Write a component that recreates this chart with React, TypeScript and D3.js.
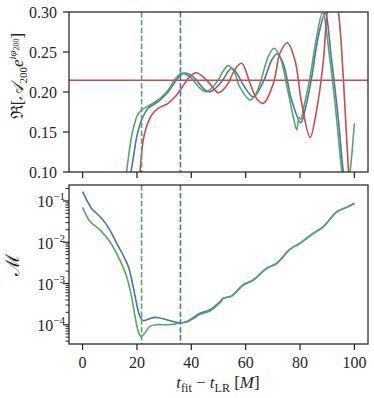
import React, { useEffect, useRef } from 'react';
import * as d3 from 'd3';

// top panel: real part of the fitted amplitude
const greenReX = [15, 16.2, 17, 18, 19, 19.9, 21, 21.7, 24.1, 27.8, 31.5, 34, 36.4, 38, 40.1, 43.2, 45.6, 47.5, 49.9, 51.5, 53.6, 55.5, 57.9, 61.6, 63.5, 65.3, 68.3, 70.4, 72.6, 75.7, 77.5, 78.8, 79.6, 80.3, 81.3, 83.7, 86.1, 88.3, 91, 93.5, 95.3, 96.9, 98.4, 100];
const greenReY = [0.06, 0.1, 0.122, 0.144, 0.159, 0.169, 0.175, 0.1775, 0.1825, 0.19, 0.2025, 0.216, 0.2234, 0.222, 0.217, 0.2046, 0.2004, 0.205, 0.215, 0.225, 0.233, 0.227, 0.206, 0.19, 0.196, 0.2109, 0.2441, 0.2546, 0.2441, 0.1984, 0.169, 0.1525, 0.168, 0.166, 0.18, 0.219, 0.269, 0.299, 0.24, 0.165, 0.1025, 0.065, 0.1, 0.161];

const blueReX = [16.5, 17.8, 19, 19.9, 21, 21.7, 24.1, 27.8, 31.5, 35.2, 37.4, 40.7, 45, 46.9, 49, 51.2, 54.8, 57, 59.1, 62.8, 66.5, 69.6, 71.6, 73.8, 76.9, 80.3, 82, 84.3, 86.7, 89.2, 91.6, 94.1, 95.9, 98, 100];
const blueReY = [0.07, 0.1, 0.125, 0.144, 0.158, 0.165, 0.1796, 0.188, 0.2004, 0.218, 0.2238, 0.219, 0.2025, 0.2004, 0.205, 0.213, 0.2296, 0.222, 0.209, 0.194, 0.213, 0.24, 0.2478, 0.2359, 0.19, 0.1617, 0.18, 0.219, 0.269, 0.2985, 0.24, 0.165, 0.1, 0.05, 0.07];

const redReX = [20.3, 21.1, 22.3, 23.5, 25.4, 27.8, 31.5, 34, 36.4, 38.9, 41.7, 45, 48.7, 49.9, 51.5, 53.6, 56, 58.5, 61.6, 64, 66.5, 70.2, 72.6, 75.3, 78.1, 80.6, 83.7, 86.1, 88.6, 90, 92, 94.1, 95.9, 97.8, 100];
const redReY = [0.07, 0.1, 0.14, 0.1566, 0.1713, 0.1796, 0.1859, 0.194, 0.2046, 0.217, 0.2241, 0.217, 0.2025, 0.199, 0.202, 0.211, 0.228, 0.2359, 0.2109, 0.192, 0.186, 0.2109, 0.2484, 0.2616, 0.24, 0.186, 0.1433, 0.1775, 0.24, 0.3, 0.335, 0.3, 0.219, 0.1025, 0.0];

const redLevel = 0.2146;

// bottom panel: mismatch
const blueMX = [0, 1.5, 3.3, 5, 7, 10, 12.5, 14.9, 16.8, 18.6, 20.1, 21.1, 22.3, 24.1, 26.6, 28.5, 30.9, 33.5, 35.8, 38.3, 40.7, 43.2, 46.9, 50.5, 51.7, 54.8, 59.1, 62.8, 67.7, 71.4, 76.3, 80, 84.9, 88.6, 93.5, 97.2, 100];
const blueMY = [0.168, 0.106, 0.066, 0.051, 0.038, 0.02, 9.5e-3, 4.9e-3, 2.6e-3, 8.4e-4, 2.75e-4, 1.58e-4, 1.26e-4, 1.36e-4, 1.51e-4, 1.45e-4, 1.32e-4, 1.2e-4, 1.12e-4, 1.2e-4, 1.48e-4, 1.9e-4, 2.3e-4, 3.6e-4, 4.4e-4, 5.0e-4, 9.3e-4, 1.23e-3, 2.34e-3, 3.1e-3, 6.8e-3, 9.5e-3, 0.0166, 0.024, 0.055, 0.071, 0.088];

const greenMX = [0, 2.7, 6.4, 10, 13.7, 16.2, 18, 19.3, 20.5, 21.5, 22.9, 24.8, 27.2, 32.1, 35.8, 38.5, 40.7, 43.2, 46.9, 50.5, 51.7, 54.8, 59.1, 62.8, 67.7, 71.4, 76.3, 80, 84.9, 88.6, 93.5, 97.2, 100];
const greenMY = [0.07, 0.032, 0.02, 0.0104, 3.7e-3, 1.48e-3, 4.8e-4, 1.58e-4, 6.8e-5, 5.2e-5, 6.3e-5, 9.1e-5, 1.0e-4, 1.0e-4, 1.1e-4, 1.17e-4, 1.41e-4, 1.78e-4, 2.14e-4, 3.4e-4, 4.3e-4, 4.9e-4, 9.1e-4, 1.2e-3, 2.3e-3, 3.0e-3, 6.7e-3, 9.4e-3, 0.0163, 0.0235, 0.054, 0.07, 0.087];

const greenStart = 21.7;
const blueStart = 36;

const xTicks = [0, 20, 40, 60, 80, 100];
const reTicks = [0.1, 0.15, 0.2, 0.25, 0.3];
const logExps = [-4, -3, -2, -1];

const BLUE = '#4c72b0';
const GREEN = '#55a868';
const RED = '#c44e52';
const INK = '#262626';
const SERIF = "'Liberation Serif', 'DejaVu Serif', serif";

const App = () => {
  const ref = useRef(null);

  useEffect(() => {
    const svg = d3.select(ref.current);
    svg.selectAll('*').remove();

    const left = 69, right = 368;
    const top1 = 12, bot1 = 172, top2 = 185, bot2 = 344;

    const x = d3.scaleLinear().domain([-5, 105]).range([left, right]);
    const y1 = d3.scaleLinear().domain([0.1, 0.3]).range([bot1, top1]);
    const y2 = d3.scaleLog().domain([3.41e-5, 0.244]).range([bot2, top2]);

    const defs = svg.append('defs');
    defs.append('clipPath').attr('id', 'c1').append('rect')
      .attr('x', left).attr('y', top1).attr('width', right - left).attr('height', bot1 - top1);
    defs.append('clipPath').attr('id', 'c2').append('rect')
      .attr('x', left).attr('y', top2).attr('width', right - left).attr('height', bot2 - top2);

    const zip = (a, b) => a.map((v, i) => [v, b[i]]);

    // top panel curves
    const g1 = svg.append('g').attr('clip-path', 'url(#c1)');
    const line1 = d3.line().x(d => x(d[0])).y(d => y1(d[1])).curve(d3.curveCatmullRom.alpha(0.5));
    [[blueReX, blueReY, BLUE], [greenReX, greenReY, GREEN], [redReX, redReY, RED]].forEach(([xs, ys, c]) => {
      g1.append('path').attr('d', line1(zip(xs, ys))).attr('fill', 'none')
        .attr('stroke', c).attr('stroke-width', 1.6);
    });
    g1.append('line').attr('x1', left).attr('x2', right)
      .attr('y1', y1(redLevel)).attr('y2', y1(redLevel))
      .attr('stroke', RED).attr('stroke-width', 1.6);

    // bottom panel curves
    const g2 = svg.append('g').attr('clip-path', 'url(#c2)');
    const line2 = d3.line().x(d => x(d[0])).y(d => y2(d[1])).curve(d3.curveCatmullRom.alpha(0.5));
    [[blueMX, blueMY, BLUE], [greenMX, greenMY, GREEN]].forEach(([xs, ys, c]) => {
      g2.append('path').attr('d', line2(zip(xs, ys))).attr('fill', 'none')
        .attr('stroke', c).attr('stroke-width', 1.6);
    });

    // vertical dashed markers in both panels
    [[g1, top1, bot1], [g2, top2, bot2]].forEach(([g, t, b]) => {
      [[greenStart, GREEN], [blueStart, BLUE]].forEach(([v, c]) => {
        g.append('line').attr('x1', x(v)).attr('x2', x(v)).attr('y1', t).attr('y2', b)
          .attr('stroke', c).attr('stroke-width', 1.6).attr('stroke-dasharray', '5.5,2.4');
      });
    });

    // frames
    [[top1, bot1], [top2, bot2]].forEach(([t, b]) => {
      svg.append('rect').attr('x', left).attr('y', t).attr('width', right - left).attr('height', b - t)
        .attr('fill', 'none').attr('stroke', INK).attr('stroke-width', 1.25);
    });

    // x ticks
    [bot1, bot2].forEach(b => {
      xTicks.forEach(v => {
        svg.append('line').attr('x1', x(v)).attr('x2', x(v)).attr('y1', b).attr('y2', b + 6)
          .attr('stroke', INK).attr('stroke-width', 1.25);
      });
    });
    xTicks.forEach(v => {
      svg.append('text').attr('x', x(v)).attr('y', 368).attr('text-anchor', 'middle')
        .style('font-family', SERIF).attr('font-size', 16).attr('fill', INK).text(v);
    });

    // top y ticks
    reTicks.forEach(v => {
      svg.append('line').attr('x1', left - 6).attr('x2', left).attr('y1', y1(v)).attr('y2', y1(v))
        .attr('stroke', INK).attr('stroke-width', 1.25);
      svg.append('text').attr('x', 57).attr('y', y1(v) + 5.5).attr('text-anchor', 'end')
        .style('font-family', SERIF).attr('font-size', 16).attr('fill', INK).text(v.toFixed(2));
    });

    // bottom log ticks
    const [lo, hi] = y2.domain();
    for (let e = -5; e <= 0; e++) {
      for (let k = 2; k <= 9; k++) {
        const v = k * Math.pow(10, e);
        if (v < lo || v > hi) continue;
        svg.append('line').attr('x1', left - 3.5).attr('x2', left).attr('y1', y2(v)).attr('y2', y2(v))
          .attr('stroke', INK).attr('stroke-width', 1);
      }
    }
    logExps.forEach(e => {
      const v = Math.pow(10, e);
      svg.append('line').attr('x1', left - 6).attr('x2', left).attr('y1', y2(v)).attr('y2', y2(v))
        .attr('stroke', INK).attr('stroke-width', 1.25);
      const t = svg.append('text').attr('x', 65).attr('y', y2(v) + 6.5).attr('text-anchor', 'end')
        .style('font-family', SERIF).attr('font-size', 16).attr('fill', INK);
      t.append('tspan').text('10');
      t.append('tspan').attr('dy', -7).attr('font-size', 11).text('\u2212' + Math.abs(e));
    });

    // top y label
    const yl = svg.append('text').attr('transform', 'translate(23,76) rotate(-90)')
      .attr('text-anchor', 'middle').style('font-family', SERIF).attr('font-size', 17).attr('fill', INK);
    yl.append('tspan').text('\u211C[');
    yl.append('tspan').attr('font-style', 'italic').text('\uD835\uDC9C');
    yl.append('tspan').attr('font-size', 11).attr('dy', 4).text('200');
    yl.append('tspan').attr('font-style', 'italic').attr('dy', -4).text('e');
    yl.append('tspan').attr('font-style', 'italic').attr('font-size', 11).attr('dy', -7).text('i\u03C6');
    yl.append('tspan').attr('font-size', 8).attr('dy', 3).text('200');
    yl.append('tspan').attr('dy', 4).text(']');

    // bottom y label
    svg.append('text').attr('transform', 'translate(19,265) rotate(-90)')
      .attr('text-anchor', 'middle').style('font-family', SERIF).attr('font-size', 19).attr('fill', INK)
      .text('\u2133');

    // x label
    const xl = svg.append('text').attr('x', 218).attr('y', 388).attr('text-anchor', 'middle')
      .style('font-family', SERIF).attr('font-size', 17).attr('fill', INK);
    xl.append('tspan').attr('font-style', 'italic').text('t');
    xl.append('tspan').attr('font-size', 12).attr('dy', 4).text('fit');
    xl.append('tspan').attr('dy', -4).text(' \u2212 ');
    xl.append('tspan').attr('font-style', 'italic').text('t');
    xl.append('tspan').attr('font-size', 12).attr('dy', 4).text('LR');
    xl.append('tspan').attr('dy', -4).text(' [');
    xl.append('tspan').attr('font-style', 'italic').text('M');
    xl.append('tspan').text(']');
  }, []);

  return (
    <div style={{ position: 'absolute', left: 0, top: 0 }}>
      <svg ref={ref} width={374} height={398} style={{ display: 'block', background: '#fff' }}></svg>
    </div>
  );
};

export default App;
